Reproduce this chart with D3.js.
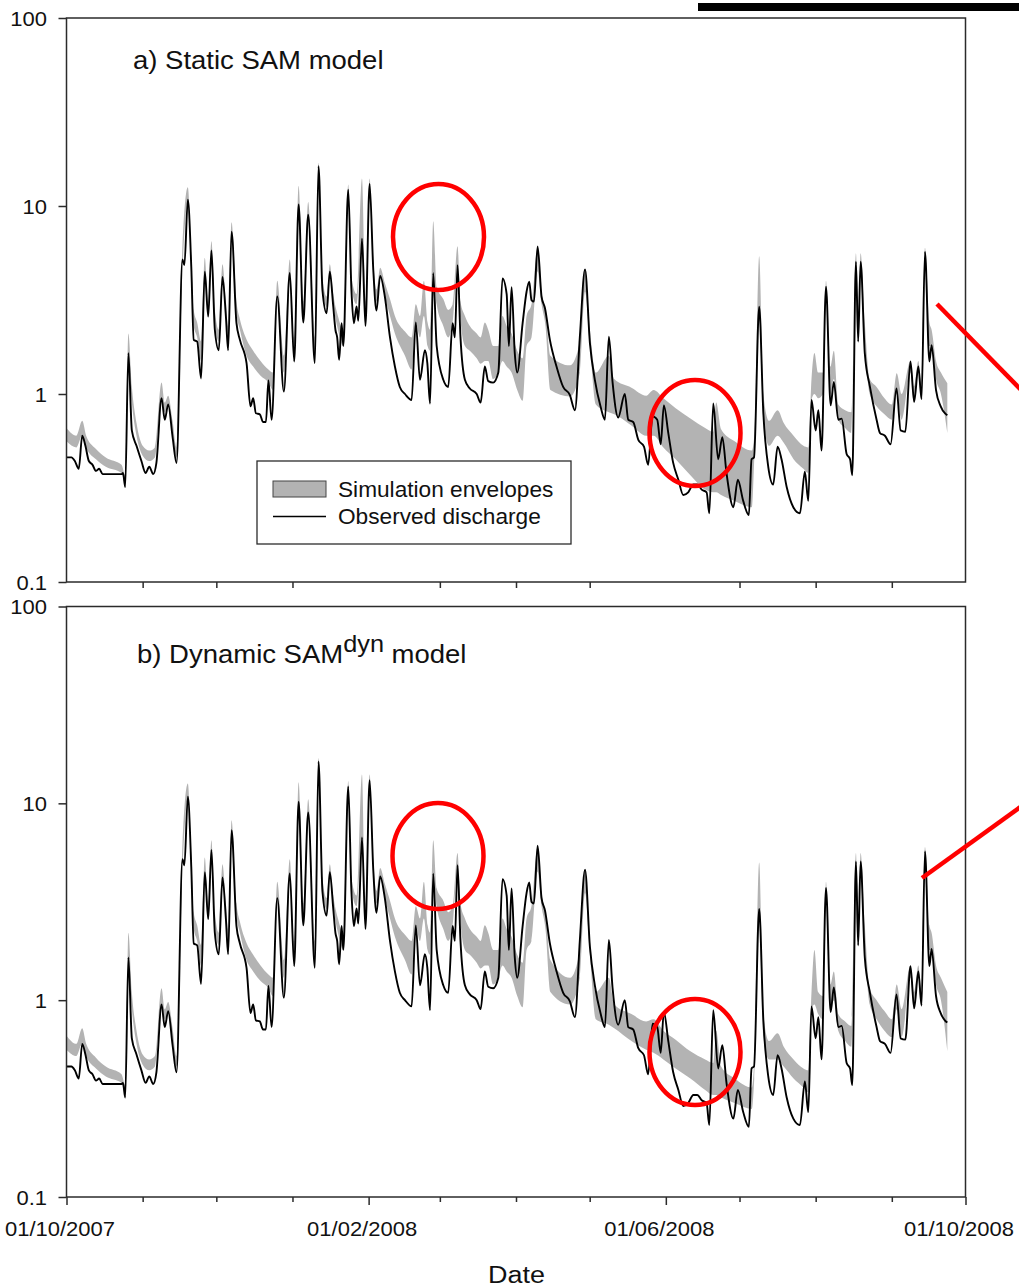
<!DOCTYPE html>
<html>
<head>
<meta charset="utf-8">
<script src="https://cdn.jsdelivr.net/npm/d3@7"></script>
<style>
  body { margin: 0; background: #fff; }
  svg { display: block; }
  text { font-family: "Liberation Sans", Arial, sans-serif; fill: #111; }
</style>
</head>
<body>
<svg id="chart" width="1019" height="1287"></svg>
<script>
// Observed discharge: [days since 01/10/2007, discharge]
const observedFlow = [
  [0,0.46],[2,0.46],[3.4,0.44],[5,0.40],[6.4,0.60],[7.7,0.53],[9.1,0.44],[10.6,0.42],[12,0.39],[13.3,0.40],
  [14.7,0.375],[22.4,0.375],[23,0.38],[23.9,0.32],[25.2,1.65],[26.6,0.64],[28.5,0.53],[30.5,0.44],[32.2,0.38],[33.7,0.41],
  [35.3,0.375],[36.6,0.43],[38.7,0.95],[40,0.73],[41.4,0.88],[43.2,0.59],[44.8,0.43],[47.2,5.2],[48,4.85],[49.4,10.8],
  [50.8,4.75],[51.8,1.94],[53.2,1.9],[54.8,1.21],[56.3,4.47],[57.7,2.58],[59,5.8],[60.4,2.19],[62,1.71],[63.5,4.2],
  [64.9,2.58],[65.8,1.71],[67.2,7.3],[69.2,2.38],[70.6,1.94],[73.3,1.46],[74.9,0.86],[76,0.95],[77.1,0.79],[78.7,0.78],
  [80,0.71],[81.2,0.71],[82.2,1.18],[83.5,0.73],[85.8,3.3],[88.5,1.03],[90.9,4.4],[92.7,1.49],[94.5,10.2],[96.4,2.4],
  [98.4,9.0],[101.1,1.46],[102.6,16.3],[104.2,3.57],[105.9,2.69],[107.2,4.47],[108.6,2.92],[109.5,2.19],[110.2,2.0],[111,1.52],
  [112,2.38],[112.7,1.8],[114.7,12.2],[116,3.57],[117,2.38],[118.1,2.92],[118.8,2.45],[120.3,6.7],[121.7,2.3],[123.4,13.1],
  [124.9,4.57],[126.2,2.78],[127.7,4.25],[129.6,3.3],[131.7,2.0],[133.7,1.4],[135.7,1.09],[137.8,1.0],[140.5,0.93],[142.2,2.4],
  [143.9,1.19],[145.9,1.71],[146.9,1.46],[148,0.89],[149.3,4.39],[150.7,1.8],[153.4,1.19],[155.4,1.09],[157.2,2.38],[158.1,2.0],
  [159.2,4.85],[160.4,2.0],[162.2,1.19],[164.2,1.07],[167,1.0],[168.6,0.9],[170.3,1.4],[171.7,1.17],[173.7,1.15],[175.8,1.3],
  [177.5,4.12],[179.2,3.4],[180.1,1.8],[181.2,3.7],[182.5,1.65],[183.5,1.3],[185.7,2.38],[187.3,3.5],[188.4,3.96],[189.3,3.16],
  [190.3,3.1],[191.8,6.1],[193.4,3.3],[194.8,2.86],[196.8,1.94],[199.5,1.4],[202.2,1.09],[204.9,0.99],[207,0.82],[209,2.02],
  [211.1,4.6],[213.1,1.86],[215.1,1.19],[217.4,0.86],[219.2,0.73],[220.8,2.02],[222.3,1.16],[224.6,0.75],[227.3,1.0],[228.7,0.73],
  [230.7,0.71],[232.8,0.57],[235.1,0.525],[236.8,0.42],[238.6,0.76],[240.5,0.73],[241.9,0.54],[243.2,0.87],[245,0.62],[247,0.43],
  [249.1,0.35],[251.1,0.29],[253.1,0.3],[255.2,0.33],[256.8,0.33],[258.6,0.31],[260.6,0.3],[261.7,0.232],[263.3,0.89],[265.3,0.45],
  [267,0.59],[268.7,0.38],[271.5,0.25],[273.3,0.35],[275.5,0.27],[277.8,0.227],[278.9,0.45],[279.9,0.46],[282,2.91],[283.7,0.79],
  [285.7,0.41],[287.7,0.33],[289.5,0.525],[291.1,0.45],[293.2,0.32],[295.9,0.25],[298.6,0.232],[300.6,0.386],[302,0.27],[303.3,0.93],
  [305,0.64],[306.1,0.82],[307.4,0.5],[309.2,3.72],[311.1,0.87],[312.4,1.16],[314.2,0.73],[315.6,0.74],[317.6,0.48],[319,0.45],
  [319.9,0.37],[321.4,5.06],[322.3,1.9],[323.3,5.06],[325,1.65],[327.1,1.09],[329.8,0.73],[331.2,0.62],[333.2,0.6],[335.5,0.54],
  [337.9,1.07],[339.6,0.64],[341.5,0.63],[343.6,1.49],[345.1,0.91],[346.8,1.4],[348.1,0.94],[349.5,5.7],[351.3,1.49],[352.2,1.82],
  [354,1.05],[355.9,0.86],[357.6,0.79],[358.6,0.77]
];

// Simulation envelopes (lower / upper bound) on a shared day grid
const envDays = [
  0,4,6.4,8,12,16,22.4,23.9,25.2,26.6,
  28.5,31,33.7,36,38.7,40,41.4,43.2,44.8,47.2,
  49.4,50.8,51.8,53.2,54.8,56.3,57.7,59,60.4,62,
  63.5,64.9,65.8,67.2,69.2,70.6,73.3,76,79,82.2,
  84,85.8,88.5,90.9,92.7,94.5,96.4,98.4,101.1,102.6,
  104.2,105.9,107.2,108.6,110.5,112.7,114.7,116,118.1,120.3,
  121.7,123.4,124.9,126.2,127.7,129.6,131.7,133.7,137.8,140.5,
  142.2,143.9,145.5,147,148,149.3,150.7,153.4,155.4,157.2,
  159.2,160.4,162.2,164.2,167,168.6,170.3,171.7,173.7,175.8,
  177.5,179.2,181.2,183.5,185.7,187.3,189.3,191.8,193.4,195,
  197,205,209,211.1,213.1,215.5,220.8,223,230,236,
  239,243,248,254,260,263.3,264.5,266.5,272,279,
  280,282,283.7,286,289.5,292,296,300,302,303.3,
  304.5,306,308,309.2,311,312.4,314.2,317,319.5,321.4,
  322.3,323.3,325,327,329.8,333,336,338,340,343.6,
  345,346.8,348,349.5,351.3,352.2,354,356,358.6
];

// Static SAM model
const envLoA = [
  0.56,0.52,0.6,0.52,0.45,0.41,0.38,0.33,1.6,0.9,
  0.6,0.47,0.44,0.46,0.95,0.8,0.88,0.62,0.46,4.5,
  10.5,4.6,2.3,2.0,1.5,4.3,2.6,5.6,2.4,1.9,
  4.2,2.7,2.0,7.3,2.7,2.2,1.6,1.4,1.25,1.15,
  1.05,3.3,1.3,4.4,1.7,10,2.6,8.9,1.7,16,
  3.7,2.9,4.4,3.0,2.2,1.8,12,3.7,3.0,6.6,
  2.6,13,4.6,3.1,4.2,3.3,2.6,2.1,1.6,1.35,
  2.4,2.0,2.6,1.8,1.7,4.4,3.0,2.3,2.0,2.4,
  4.8,2.5,1.8,1.7,1.55,1.45,1.5,1.5,1.2,1.3,
  1.5,1.4,1.3,1.05,0.92,1.8,2.0,4.5,3.0,2.3,
  1.05,0.97,1.3,3.5,1.8,0.88,0.8,0.78,0.68,0.6,
  0.6,0.52,0.45,0.37,0.31,0.3,0.3,0.29,0.27,0.25,
  0.45,2.5,0.75,0.53,0.6,0.55,0.45,0.4,0.38,0.93,
  1.0,0.95,1.0,3.5,1.0,1.2,0.73,0.66,0.62,4.8,
  2.2,5.0,1.9,1.0,0.86,0.78,0.73,1.0,0.73,1.3,
  0.9,1.3,0.95,5.5,1.8,1.8,1.2,1.0,0.62
];
const envHiA = [
  0.66,0.6,0.72,0.6,0.51,0.46,0.42,0.37,2.1,1.1,
  0.7,0.53,0.5,0.52,1.15,0.9,0.98,0.72,0.52,6.2,
  12.6,5.5,2.8,2.4,1.9,5.3,3.0,6.5,2.8,2.2,
  4.9,3.1,2.3,8.2,3.1,2.5,1.95,1.7,1.5,1.35,
  1.3,4.0,1.6,5.2,2.0,12.8,3.1,10.5,2.0,17,
  4.2,3.3,4.9,3.4,2.6,2.2,13,4.2,3.4,14,
  3.1,14,5.2,3.6,4.7,3.9,3.2,2.6,2.15,2.0,
  3.0,2.6,4.0,2.4,2.2,8.3,3.7,3.2,2.8,3.0,
  6.1,3.1,2.6,2.3,2.1,2.0,2.4,2.2,1.8,1.8,
  2.6,2.3,2.1,1.7,1.55,2.6,3.0,6.0,3.5,2.8,
  1.6,1.42,1.9,4.6,2.2,1.3,1.6,1.2,1.08,0.98,
  1.05,0.95,0.84,0.74,0.66,0.63,0.9,0.65,0.56,0.5,
  0.6,5.4,1.0,0.72,0.82,0.7,0.6,0.53,0.52,1.2,
  1.65,1.3,1.3,4.0,1.4,1.7,0.88,0.82,0.8,5.6,
  2.6,5.6,2.4,1.2,1.09,0.95,0.88,1.29,1.0,1.5,
  1.1,1.5,1.15,6.0,2.4,2.2,1.5,1.3,1.14
];

// Dynamic SAMdyn model
const envLoB = [
  0.56,0.52,0.6,0.52,0.45,0.41,0.38,0.33,1.6,0.9,
  0.6,0.47,0.44,0.46,0.95,0.8,0.88,0.62,0.46,4.5,
  10.5,4.6,2.3,2.0,1.5,4.3,2.6,5.6,2.4,1.9,
  4.2,2.7,2.0,7.3,2.7,2.2,1.6,1.4,1.25,1.15,
  1.05,3.3,1.3,4.4,1.7,10,2.6,8.9,1.7,16,
  3.7,2.9,4.4,3.0,2.2,1.8,12,3.7,3.0,6.6,
  2.6,13,4.6,3.1,4.2,3.3,2.6,2.1,1.6,1.35,
  2.4,2.0,2.6,1.8,1.7,4.4,3.0,2.3,2.0,2.4,
  4.8,2.5,1.8,1.7,1.55,1.45,1.5,1.5,1.2,1.3,
  1.5,1.4,1.3,1.05,0.92,1.8,2.0,4.5,3.0,2.3,
  1.1,0.95,1.3,3.5,1.7,0.8,0.75,0.72,0.62,0.56,
  0.54,0.5,0.45,0.4,0.35,0.33,0.33,0.32,0.3,0.28,
  0.4,2.5,0.65,0.5,0.5,0.46,0.4,0.36,0.34,0.9,
  0.95,0.85,0.8,3.5,0.9,1.0,0.7,0.62,0.58,4.8,
  2.2,5.0,1.9,0.95,0.8,0.7,0.65,0.9,0.65,1.3,
  0.9,1.3,0.95,5.5,1.8,1.8,1.2,1.0,0.55
];
const envHiB = [
  0.66,0.6,0.72,0.6,0.51,0.46,0.42,0.37,2.2,1.1,
  0.7,0.53,0.5,0.52,1.15,0.9,0.98,0.72,0.52,6.2,
  12.6,5.5,2.8,2.4,1.9,5.3,3.0,6.5,2.8,2.2,
  4.9,3.1,2.3,8.2,3.1,2.5,1.95,1.7,1.5,1.35,
  1.3,4.0,1.6,5.2,2.0,12.8,3.1,10.5,2.0,17,
  4.2,3.3,4.9,3.4,2.6,2.2,13,4.2,3.4,14,
  3.1,14,5.2,3.6,4.7,3.9,3.2,2.6,2.15,2.0,
  3.0,2.6,4.0,2.4,2.2,6.5,3.7,3.2,2.8,3.0,
  5.6,3.1,2.6,2.3,2.1,2.0,2.4,2.2,1.8,1.8,
  2.6,2.3,2.1,1.7,1.55,2.6,3.0,6.0,3.5,2.8,
  1.6,1.3,1.8,4.6,2.0,1.1,1.3,0.95,0.85,0.78,
  0.8,0.7,0.63,0.55,0.5,0.48,0.7,0.46,0.4,0.36,
  0.5,5.0,0.85,0.62,0.68,0.58,0.5,0.45,0.44,1.1,
  1.8,1.1,1.05,4.0,1.2,1.4,0.85,0.78,0.74,5.6,
  2.6,5.6,2.4,1.15,1.0,0.88,0.8,1.2,0.9,1.5,
  1.1,1.5,1.15,6.0,2.4,2.2,1.5,1.3,1.1
];

const yTickValues = [0.1, 1, 10, 100];
const yTickLabels = ["0.1", "1", "10", "100"];
const dateTickLabels = ["01/10/2007", "01/02/2008", "01/06/2008", "01/10/2008"];
const legendLabels = ["Simulation envelopes", "Observed discharge"];

// ---- layout & styling ----
const svg = d3.select("#chart");
const FONT = "'Liberation Sans', Arial, sans-serif";
const SX = 1.1;               // horizontal text stretch
const AXIS_COLOR = "#2b2b2b";
const ENV_FILL = "#b3b3b3";
const RED = "#f00";

const START = Date.UTC(2007, 9, 1);
const END = Date.UTC(2008, 9, 1);
const dayToDate = d => new Date(START + d * 864e5);
const parseDate = d3.utcParse("%d/%m/%Y");
const majorDates = dateTickLabels.map(parseDate);
const allMonths = d3.utcMonth.range(new Date(START), new Date(END + 1));
const isMajor = d => majorDates.some(m => +m === +d);
const minorDates = allMonths.filter(d => !isMajor(d));

const left = 66.5, right = 965.5;
const x = d3.scaleUtc().domain([new Date(START), new Date(END)]).range([left, right]);

const panels = [
  { key: "a", top: 18, bottom: 582, lo: envLoA, hi: envHiA, labels: false },
  { key: "b", top: 606.5, bottom: 1197, lo: envLoB, hi: envHiB, labels: true }
];

panels.forEach(p => {
  const y = d3.scaleLog().domain([0.1, 100]).range([p.bottom, p.top]);
  const g = svg.append("g").attr("class", "panel-" + p.key);

  // envelope band
  const area = d3.area()
    .x(i => x(dayToDate(envDays[i])))
    .y0(i => y(p.lo[i]))
    .y1(i => y(p.hi[i]))
    .curve(d3.curveMonotoneX);
  g.append("path")
    .datum(d3.range(envDays.length))
    .attr("d", area)
    .attr("fill", ENV_FILL)
    .attr("stroke", "none");

  // observed discharge
  const line = d3.line()
    .x(d => x(dayToDate(d[0])))
    .y(d => y(d[1]))
    .curve(d3.curveMonotoneX);
  g.append("path")
    .datum(observedFlow)
    .attr("d", line)
    .attr("fill", "none")
    .attr("stroke", "#000")
    .attr("stroke-width", 1.9)
    .attr("stroke-linejoin", "round");

  // frame
  g.append("rect")
    .attr("x", left).attr("y", p.top)
    .attr("width", right - left).attr("height", p.bottom - p.top)
    .attr("fill", "none").attr("stroke", AXIS_COLOR).attr("stroke-width", 1.5);

  // y axis
  const yAxis = d3.axisLeft(y)
    .tickValues(yTickValues)
    .tickFormat((d, i) => yTickLabels[i])
    .tickSize(8)
    .tickPadding(9.7);
  const ya = g.append("g")
    .attr("transform", `translate(${left},0)`)
    .call(yAxis);
  ya.select(".domain").remove();
  ya.attr("color", AXIS_COLOR);
  ya.selectAll(".tick line").attr("stroke-width", 1.5);
  ya.selectAll("text")
    .attr("font-family", FONT).attr("font-size", 20)
    .attr("fill", "#111").attr("dy", "0.37em")
    .attr("transform", `scale(${SX},1)`);

  // x axis: monthly minor ticks
  const xMinor = g.append("g")
    .attr("transform", `translate(0,${p.bottom})`)
    .call(d3.axisBottom(x).tickValues(minorDates).tickSize(p.labels ? 5 : 6).tickFormat(""));
  xMinor.select(".domain").remove();
  xMinor.attr("color", AXIS_COLOR);
  xMinor.selectAll(".tick line").attr("stroke-width", 1.5);

  if (p.labels) {
    const xMajor = g.append("g")
      .attr("transform", `translate(0,${p.bottom})`)
      .call(d3.axisBottom(x).tickValues(majorDates).tickSize(8).tickFormat(""));
    xMajor.select(".domain").remove();
    xMajor.attr("color", AXIS_COLOR);
    xMajor.selectAll(".tick line").attr("stroke-width", 1.5);

    g.selectAll("text.date-label")
      .data(majorDates)
      .join("text")
      .attr("class", "date-label")
      .attr("transform", d => `translate(${x(d) - 6.5},1236) scale(${SX},1)`)
      .attr("text-anchor", "middle")
      .attr("font-size", 20)
      .text((d, i) => dateTickLabels[i]);
  }
});

// panel titles
svg.append("text")
  .attr("transform", `translate(133,69) scale(${SX},1)`)
  .attr("font-size", 25)
  .text("a) Static SAM model");

const tb = svg.append("text")
  .attr("transform", `translate(137,663.3) scale(${SX},1)`)
  .attr("font-size", 25);
tb.append("tspan").text("b) Dynamic SAM");
tb.append("tspan").attr("dy", -11).attr("font-size", 23).text("dyn");
tb.append("tspan").attr("dy", 11).text(" model");

// legend (panel a)
const lg = svg.append("g");
lg.append("rect")
  .attr("x", 257).attr("y", 461).attr("width", 314).attr("height", 83)
  .attr("fill", "#fff").attr("stroke", AXIS_COLOR).attr("stroke-width", 1.3);
lg.append("rect")
  .attr("x", 273).attr("y", 481).attr("width", 53).attr("height", 16)
  .attr("fill", ENV_FILL).attr("stroke", "#444").attr("stroke-width", 1);
lg.append("line")
  .attr("x1", 273).attr("x2", 326).attr("y1", 516.5).attr("y2", 516.5)
  .attr("stroke", "#000").attr("stroke-width", 1.6);
lg.selectAll("text")
  .data(legendLabels)
  .join("text")
  .attr("transform", (d, i) => `translate(338,${[496.5, 524][i]}) scale(1.03,1)`)
  .attr("font-size", 22)
  .text(d => d);

// x axis title
svg.append("text")
  .attr("transform", `translate(516.5,1283) scale(${SX},1)`)
  .attr("text-anchor", "middle")
  .attr("font-size", 24.5)
  .text("Date");

// highlight annotations
const ann = svg.append("g").attr("fill", "none").attr("stroke", RED).attr("stroke-width", 4.5);
[[438.5, 237], [695, 433], [438, 856], [695, 1052]].forEach(([cx, cy]) => {
  ann.append("ellipse").attr("cx", cx).attr("cy", cy).attr("rx", 45.5).attr("ry", 53);
});
ann.append("line").attr("x1", 937).attr("y1", 304).attr("x2", 1030).attr("y2", 399);
ann.append("line").attr("x1", 922).attr("y1", 878).attr("x2", 1030).attr("y2", 800);

// bar at top right
svg.append("rect").attr("x", 698).attr("y", 3).attr("width", 321).attr("height", 8).attr("fill", "#000");
</script>
</body>
</html>
